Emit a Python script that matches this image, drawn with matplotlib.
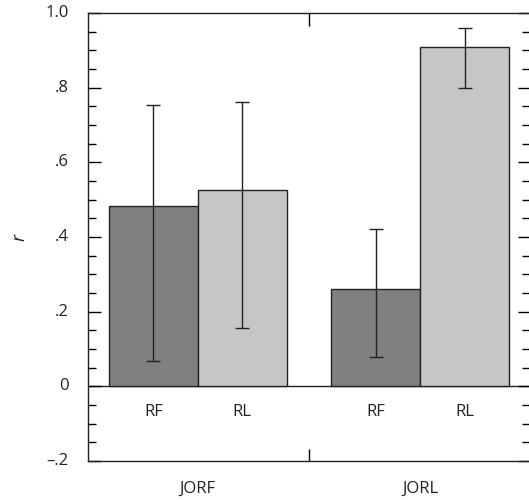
import matplotlib
matplotlib.use("Agg")
import matplotlib.pyplot as plt
from matplotlib.ticker import MultipleLocator, FixedLocator

plt.rcParams['font.family'] = ['Open Sans', 'DejaVu Sans']

groups = ['JORF', 'JORL']
conds = ['RF', 'RL']
means = [0.482, 0.525, 0.261, 0.909]
err_low = [0.067, 0.156, 0.078, 0.800]
err_high = [0.754, 0.761, 0.422, 0.960]
colors = ['#808080', '#c5c6c5', '#808080', '#c5c6c5']
xpos = [0, 1, 2.5, 3.5]

fig = plt.figure(figsize=(5.29, 5.0), dpi=100)
ax = fig.add_axes([88 / 529, 39 / 500, 442 / 529, 448 / 500])

yerr = [[m - lo for m, lo in zip(means, err_low)],
        [hi - m for m, hi in zip(means, err_high)]]
ax.bar(xpos, means, width=1.0, color=colors, edgecolor='#222222', linewidth=1.0, zorder=2)
ax.errorbar(xpos, means, yerr=yerr, fmt='none', ecolor='#222222', elinewidth=1.0,
            capsize=5, capthick=1.0, zorder=3)
ax.axhline(0, color='#222222', linewidth=1.0, zorder=1)

ax.set_xlim(-0.735, 4.235)
ax.set_ylim(-0.2, 1.0)

ax.yaxis.set_major_locator(MultipleLocator(0.2))
ax.yaxis.set_minor_locator(MultipleLocator(0.05))
ax.tick_params(axis='y', which='major', direction='in', length=9, width=1.0,
               left=True, right=True, labelleft=False)
ax.tick_params(axis='y', which='minor', direction='in', length=6, width=1.0,
               left=True, right=True)
for v, lab in zip([1.0, 0.8, 0.6, 0.4, 0.2, 0.0, -0.2],
                  ['1.0', '.8', '.6', '.4', '.2', '0', '\u2013.2']):
    ax.text(-0.95, v, lab, ha='right', va='center', fontsize=12, color='#222222')

ax.xaxis.set_major_locator(FixedLocator([1.75]))
ax.tick_params(axis='x', which='major', direction='in', length=9, width=1.0,
               top=True, bottom=True, labelbottom=False)

for x, c in zip(xpos, conds * 2):
    ax.text(x, -0.07, c, ha='center', va='center', fontsize=12, color='#222222')
for i, g in enumerate(groups):
    ax.text((xpos[2 * i] + xpos[2 * i + 1]) / 2, -0.275, g, ha='center', va='center',
            fontsize=12, color='#222222')

ax.text(-1.5, 0.4, 'r', rotation=90, style='italic', ha='center', va='center',
        fontsize=13, color='#222222')

for s in ax.spines.values():
    s.set_linewidth(1.0)
    s.set_color('#222222')

fig.savefig('out.png', dpi=100)
